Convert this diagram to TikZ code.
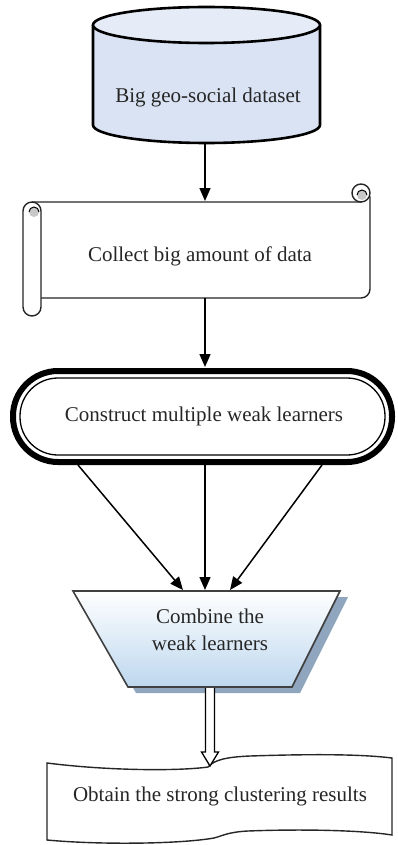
\documentclass[tikz,border=0pt]{standalone}
\usepackage{fontspec}
\setmainfont{Liberation Serif}
\usetikzlibrary{arrows.meta,calc}
\definecolor{cylfill}{HTML}{DAE3F3}
\definecolor{cyltop}{HTML}{E6ECF7}
\definecolor{trapbot}{HTML}{BDD7EE}
\definecolor{trapshadow}{HTML}{8FA6BE}
\definecolor{rollgray}{HTML}{C8C8C8}
\definecolor{txt}{HTML}{262626}
\tikzset{
  lbl/.style={font=\fontsize{21}{25}\selectfont, text=txt, align=center, inner sep=0pt},
  conn/.style={line width=1.5pt, -{Triangle[length=13pt,width=11pt]}},
  outline/.style={line width=1.4pt, draw=black!85},
}
\begin{document}
\begin{tikzpicture}[x=1pt,y=-1pt]
\useasboundingbox (0,0) rectangle (397,845);

% ---------- cylinder ----------
\fill[cylfill] (93,25) -- (93,125) arc[start angle=180,end angle=0,x radius=113.5,y radius=18] -- (320,25) -- cycle;
\draw[line width=2.6pt] (93,25) -- (93,125) arc[start angle=180,end angle=0,x radius=113.5,y radius=18] -- (320,25);
\draw[line width=2.6pt, fill=cyltop] (206.5,25) ellipse[x radius=113.5, y radius=18];
\node[lbl] (db) at (208,97) {Big geo-social dataset};
\coordinate (dbbot) at (205,143);

% ---------- scroll ----------
\draw[outline, fill=white] (32,202) -- (361,202) -- (361,197) -- (370,197) -- (370,289)
   arc[start angle=0,end angle=90,radius=9] -- (41,298);
\draw[outline, fill=white] (23,211) arc[start angle=180,end angle=270,radius=9]
   arc[start angle=270,end angle=360,radius=9] -- (41,307) arc[start angle=0,end angle=180,radius=9] -- cycle;
\fill[rollgray] (34,212) circle[radius=5];
\draw[line width=1pt] (29,212) arc[start angle=180,end angle=360,radius=5];
\draw[outline, fill=white] (361,193) circle[radius=9];
\fill[rollgray] (362,195) circle[radius=5];
\draw[line width=1pt] (357,195) arc[start angle=180,end angle=360,radius=5];
\node[lbl] (collect) at (200,256) {Collect big amount of data};
\coordinate (scrolltop) at (205,201);
\coordinate (scrollbot) at (205,298);

% ---------- terminal (double border) ----------
\draw[line width=6pt] (13,371) [rounded corners=45pt] rectangle (392,462);
\draw[line width=1.3pt] (20,378) [rounded corners=38pt] rectangle (385,455);
\node[lbl] (construct) at (204,416) {Construct multiple weak learners};
\coordinate (termtop) at (205,367);
\coordinate (termL) at (78,465);
\coordinate (termM) at (205,465);
\coordinate (termR) at (322,465);

% ---------- trapezoid ----------
\fill[trapshadow] (81,597) -- (348,597) -- (300,693) -- (136,693) -- cycle;
\shade[top color=white, bottom color=trapbot] (73,591) -- (340,591) -- (292,687) -- (128,687) -- cycle;
\draw[line width=1.6pt, draw=black!75] (73,591) -- (340,591) -- (292,687) -- (128,687) -- cycle;
\node[lbl] (combine) at (210,630) {Combine the\\[2pt]weak learners};
\coordinate (trapL) at (183,590);
\coordinate (trapM) at (205,590);
\coordinate (trapR) at (230,590);
\coordinate (trapbot) at (210,688);

% ---------- wavy document ----------
\draw[outline, fill=white] (47,763) .. controls (110,771) and (180,771) .. (208,767)
   .. controls (214,760) and (226,757) .. (250,756)
   .. controls (310,754) and (360,754) .. (392,758)
   -- (392,835)
   .. controls (360,830) and (300,829) .. (248,831)
   .. controls (228,832) and (222,836) .. (214,838)
   .. controls (180,844) and (100,845) .. (47,840) -- cycle;
\node[lbl] (obtain) at (220,796) {Obtain the strong clustering results};
\coordinate (doctop) at (210,766);

% ---------- connectors ----------
\draw[conn] (dbbot) -- (scrolltop);
\draw[conn] (scrollbot) -- (termtop);
\draw[conn] (termL) -- (trapL);
\draw[conn] (termM) -- (trapM);
\draw[conn] (termR) -- (trapR);
\draw[line width=1.3pt, fill=white] ($(trapbot)+(-4.5,0)$) -- ($(trapbot)+(-4.5,64)$) -- ($(trapbot)+(-8.5,64)$)
   -- (doctop) -- ($(trapbot)+(8.5,64)$) -- ($(trapbot)+(4.5,64)$) -- ($(trapbot)+(4.5,0)$);
\end{tikzpicture}
\end{document}
